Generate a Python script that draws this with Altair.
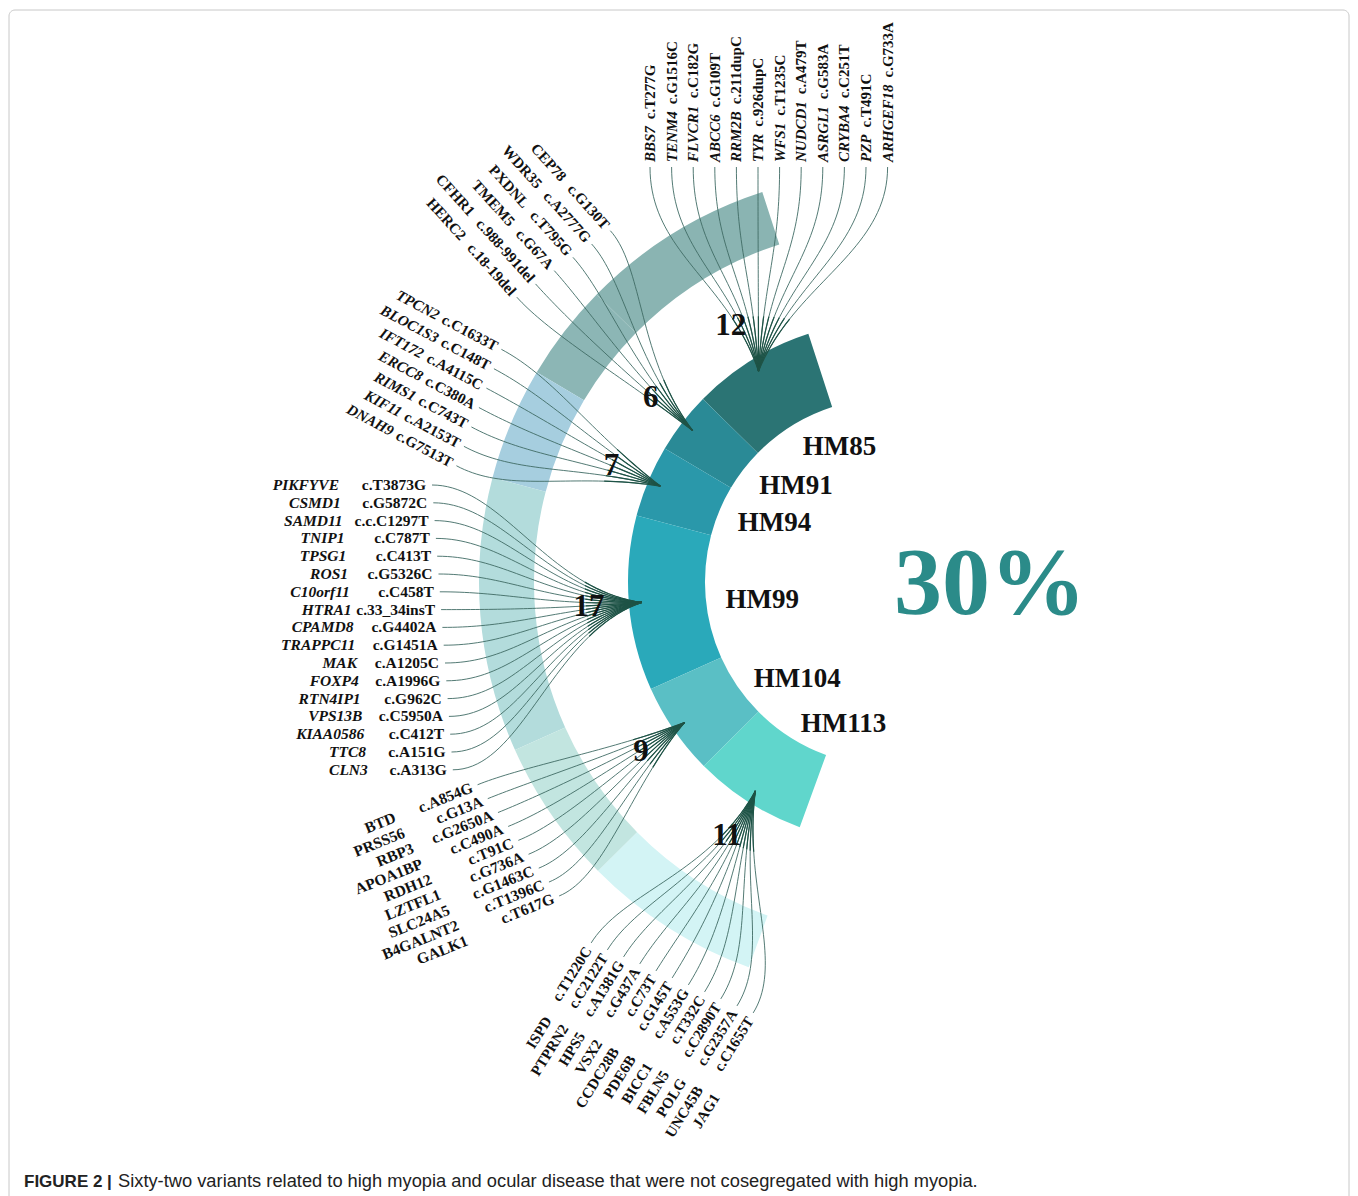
import math
import altair as alt
import pandas as pd

# ---------------- data ----------------
groups = ["HM85", "HM91", "HM94", "HM99", "HM104", "HM113"]
counts = [12, 6, 7, 17, 9, 11]

genes = {
    "HM85": ["BBS7", "TENM4", "FLVCR1", "ABCC6", "RRM2B", "TYR", "WFS1", "NUDCD1",
             "ASRGL1", "CRYBA4", "PZP", "ARHGEF18"],
    "HM91": ["CEP78", "WDR35", "PXDNL", "TMEM5", "CFHR1", "HERC2"],
    "HM94": ["TPCN2", "BLOC1S3", "IFT172", "ERCC8", "RIMS1", "KIF11", "DNAH9"],
    "HM99": ["PIKFYVE", "CSMD1", "SAMD11", "TNIP1", "TPSG1", "ROS1", "C10orf11", "HTRA1",
             "CPAMD8", "TRAPPC11", "MAK", "FOXP4", "RTN4IP1", "VPS13B", "KIAA0586", "TTC8", "CLN3"],
    "HM104": ["BTD", "PRSS56", "RBP3", "APOA1BP", "RDH12", "LZTFL1", "SLC24A5", "B4GALNT2", "GALK1"],
    "HM113": ["ISPD", "PTPRN2", "HPS5", "VSX2", "CCDC28B", "PDE6B", "BICC1", "FBLN5", "POLG",
              "UNC45B", "JAG1"],
}
variants = {
    "HM85": ["c.T277G", "c.G1516C", "c.C182G", "c.G109T", "c.211dupC", "c.926dupC", "c.T1235C",
             "c.A479T", "c.G583A", "c.C251T", "c.T491C", "c.G733A"],
    "HM91": ["c.G130T", "c.A2777G", "c.T795G", "c.G67A", "c.988-991del", "c.18-19del"],
    "HM94": ["c.C1633T", "c.C148T", "c.A4115C", "c.C380A", "c.C743T", "c.A2153T", "c.G7513T"],
    "HM99": ["c.T3873G", "c.G5872C", "c.c.C1297T", "c.C787T", "c.C413T", "c.G5326C", "c.C458T",
             "c.33_34insT", "c.G4402A", "c.G1451A", "c.A1205C", "c.A1996G", "c.G962C",
             "c.C5950A", "c.C412T", "c.A151G", "c.A313G"],
    "HM104": ["c.A854G", "c.G13A", "c.G2650A", "c.C490A", "c.T91C", "c.G736A", "c.G1463C",
              "c.T1396C", "c.T617G"],
    "HM113": ["c.T1220C", "c.C2122T", "c.A1381G", "c.G437A", "c.C73T", "c.G145T", "c.A553G",
              "c.T332C", "c.C2890T", "c.G2357A", "c.C1655T"],
}
big_label = "30%"
caption_bold = "FIGURE 2 |"
caption_text = ("Sixty-two variants related to high myopia and ocular disease that were not "
                "cosegregated with high myopia.")

inner_colors = ["#2b7474", "#2a8a96", "#2a98aa", "#2aa9ba", "#5abfc5", "#60d6cc"]
outer_colors = ["#8ab4b2", "#8cb6b5", "#a6cedf", "#b3dcdc", "#c2e5e0", "#d3f4f5"]

# ---------------- layout ----------------
W, H = 1342, 1188
X0, Y0 = 8, 8
CX, CY = 889, 582
TH0, TH1 = 200.0, 342.0
TOTAL = sum(counts)
R_IN, R_OUT = 184, 261
R_B_IN, R_B_OUT = 355, 410
R_TIP = 248
SERIF = "Liberation Serif"
SANS = "Liberation Sans"
INK = "#111111"

XS = alt.Scale(domain=[X0, X0 + W], nice=False, zero=False)
YS = alt.Scale(domain=[Y0, Y0 + H], nice=False, zero=False, reverse=True)
TS = alt.Scale(domain=[0, TOTAL], range=[math.radians(TH0), math.radians(TH1)])

TB = dict(A=722, B=667, C=722, D=722, E=667, F=611, G=778, H=778, I=389, J=500, K=778, L=667,
          M=944, N=722, O=778, P=611, Q=778, R=722, S=556, T=667, U=722, V=722, W=1000, X=722,
          Y=722, Z=667, a=500, b=556, c=444, d=556, e=444, f=333, g=500, h=556, i=278, j=333,
          k=556, l=278, m=833, n=556, o=500, p=556, q=556, r=444, s=389, t=333, u=556, v=500,
          w=722, x=500, y=500, z=444)
TBI = dict(TB)
TBI.update(dict(A=667, C=667, F=667, G=722, K=667, L=611, M=889, O=722, Q=722, R=667, T=611,
                V=667, W=889, X=667, Y=611, Z=611, r=389))
for t in (TB, TBI):
    t.update({".": 250, "-": 333, "_": 500, " ": 250})
    for dch in "0123456789":
        t[dch] = 500


def tw(s, size, italic=False):
    tab = TBI if italic else TB
    return sum(tab.get(ch, 500) for ch in s) * size / 1000.0


def ang_of(c):
    return TH0 + (TH1 - TH0) * c / TOTAL


def polar(theta_deg, r):
    a = math.radians(theta_deg)
    return CX + r * math.sin(a), CY - r * math.cos(a)


LAY = {
    "HM85": dict(mode="start", a0=(650, 162), step=(21.6, 0), angle=270, size=15, italic=True,
                 gap=7, off=5, k1=85, k2=95, arr=0, spread=22),
    "HM91": dict(mode="end", a0=(607, 227), step=(-18.7, 13.3), angle=48, size=15, italic=False,
                 gap=10, off=5, k1=50, k2=90, spread=15),
    "HM94": dict(mode="end", a0=(497, 347), step=(-7.5, 19.4), angle=28, size=15, italic=True,
                 gap=5, off=5, k1=60, k2=90, spread=15),
    "HM99": dict(mode="cols", a0=(426, 485), step=(1.3, 17.8), g0=(339, 485), gstep=(1.8, 17.8),
                 angle=0, size=15.5, italic=True, off=6, k1=70, k2=95, spread=14),
    "HM104": dict(mode="cols", a0=(472, 787), step=(10.2, 13.9), g0=(395, 817), gstep=(9, 15.4),
                  angle=338, size=15.5, italic=False, off=6, k1=50, k2=80, spread=15),
    "HM113": dict(mode="cols", a0=(588, 948), step=(16.2, 7.0), g0=(548, 1018), gstep=(16.8, 7.7),
                  angle=302, size=15, italic=False, off=6, k1=60, k2=95, arr=194, spread=15),
}

# ---------------- ring tables ----------------
start = {}
cum = 0
for g, n in zip(reversed(groups), reversed(counts)):
    start[g] = cum
    cum += n

ring_rows = []
for g, n, ci, co in zip(groups, counts, inner_colors, outer_colors):
    ring_rows.append(dict(group=g, n=n, t0=start[g], t1=start[g] + n, mid=start[g] + n / 2.0,
                          ci=ci, co=co, cx=CX, cy=CY))
ring = pd.DataFrame(ring_rows)

# ---------------- labels & curves ----------------
gene_rows, var_rows, line_rows = [], [], []
lid = 0
NSEG = 40
for g, n in zip(groups, counts):
    L = LAY[g]
    a = math.radians(L["angle"])
    d = (math.cos(a), math.sin(a))
    tip = polar(ang_of(start[g] + n / 2.0), R_TIP)
    arr = L.get("arr", ang_of(start[g] + n / 2.0))
    u = (math.sin(math.radians(arr)), -math.cos(math.radians(arr)))
    p = (-u[1], u[0])
    pts = []
    for i, (ge, va) in enumerate(zip(genes[g], variants[g])):
        A = (L["a0"][0] + i * L["step"][0], L["a0"][1] + i * L["step"][1])
        if L["mode"] == "start":
            ga, galign = A, "left"
            w = tw(ge, L["size"], L["italic"]) + L["gap"]
            va_pos, valign = (A[0] + w * d[0], A[1] + w * d[1]), "left"
            P0 = (A[0] - L["off"] * d[0], A[1] - L["off"] * d[1])
            dep = (-d[0], -d[1])
        elif L["mode"] == "end":
            va_pos, valign = A, "right"
            w = tw(va, L["size"]) + L["gap"]
            ga, galign = (A[0] - w * d[0], A[1] - w * d[1]), "right"
            P0 = (A[0] + L["off"] * d[0], A[1] + L["off"] * d[1])
            dep = d
        else:
            va_pos, valign = A, "right"
            ga = (L["g0"][0] + i * L["gstep"][0], L["g0"][1] + i * L["gstep"][1])
            galign = "right"
            P0 = (A[0] + L["off"] * d[0], A[1] + L["off"] * d[1])
            dep = d
        gene_rows.append(dict(group=g, text=ge, x=ga[0], y=ga[1], ang=L["angle"], fs=L["size"],
                              align=galign, italic=L["italic"]))
        var_rows.append(dict(group=g, text=va, x=va_pos[0], y=va_pos[1], ang=L["angle"],
                             fs=L["size"], align=valign))
        pts.append((P0, dep))
    proj = [(P0[0] - tip[0]) * p[0] + (P0[1] - tip[1]) * p[1] for P0, _ in pts]
    mx = max(abs(v) for v in proj) or 1.0
    for (P0, dep), pr in zip(pts, proj):
        s = pr / mx
        al = math.radians(L["spread"] * s)
        v = (math.cos(al) * u[0] + math.sin(al) * p[0], math.cos(al) * u[1] + math.sin(al) * p[1])
        C1 = (P0[0] + L["k1"] * dep[0], P0[1] + L["k1"] * dep[1])
        C2 = (tip[0] + L["k2"] * v[0], tip[1] + L["k2"] * v[1])
        for k in range(NSEG + 1):
            t = k / float(NSEG)
            mt = 1 - t
            bx = mt ** 3 * P0[0] + 3 * mt * mt * t * C1[0] + 3 * mt * t * t * C2[0] + t ** 3 * tip[0]
            by = mt ** 3 * P0[1] + 3 * mt * mt * t * C1[1] + 3 * mt * t * t * C2[1] + t ** 3 * tip[1]
            line_rows.append(dict(id=lid, k=k, x=bx, y=by))
        lid += 1

genes_df = pd.DataFrame(gene_rows)
vars_df = pd.DataFrame(var_rows)
lines_df = pd.DataFrame(line_rows)
tips_df = lines_df[lines_df["k"] >= 31]

# ---------------- layers ----------------
frame = alt.Chart(pd.DataFrame([dict(x0=9, x1=1349, y0=10, y1=1230)])).mark_rect(
    fillOpacity=0, stroke="#c8c8c8", strokeWidth=1, cornerRadius=6
).encode(
    x=alt.X("x0:Q", scale=XS, axis=None), x2="x1:Q",
    y=alt.Y("y0:Q", scale=YS, axis=None), y2="y1:Q",
)

outer = alt.Chart(ring).mark_arc(stroke=None).encode(
    theta=alt.Theta("t0:Q", scale=TS, stack=None), theta2="t1:Q",
    radius=alt.value(R_B_OUT), radius2=alt.value(R_B_IN),
    x=alt.X("cx:Q", scale=XS, axis=None), y=alt.Y("cy:Q", scale=YS, axis=None),
    color=alt.Color("co:N", scale=None),
)
inner = alt.Chart(ring).mark_arc(stroke=None).encode(
    theta=alt.Theta("t0:Q", scale=TS, stack=None), theta2="t1:Q",
    radius=alt.value(R_OUT), radius2=alt.value(R_IN),
    x=alt.X("cx:Q", scale=XS, axis=None), y=alt.Y("cy:Q", scale=YS, axis=None),
    color=alt.Color("ci:N", scale=None),
)

curves = alt.Chart(lines_df).mark_line(color="#3f6b64", strokeWidth=0.95, opacity=0.95).encode(
    x=alt.X("x:Q", scale=XS, axis=None), y=alt.Y("y:Q", scale=YS, axis=None),
    detail="id:N", order="k:Q",
)
tip_curves = alt.Chart(tips_df).mark_line(color="#1e5346", strokeWidth=1.2).encode(
    x=alt.X("x:Q", scale=XS, axis=None), y=alt.Y("y:Q", scale=YS, axis=None),
    detail="id:N", order="k:Q",
)

nums = alt.Chart(ring).mark_text(font=SERIF, fontWeight="bold", fontSize=31, color=INK,
                                 align="center", baseline="middle").encode(
    theta=alt.Theta("mid:Q", scale=TS, stack=None), radius=alt.value(301),
    x=alt.X("cx:Q", scale=XS, axis=None), y=alt.Y("cy:Q", scale=YS, axis=None),
    text="n:Q",
)
hm = alt.Chart(ring).mark_text(font=SERIF, fontWeight="bold", fontSize=27, color=INK,
                               align="left", baseline="middle", dy=4).encode(
    theta=alt.Theta("mid:Q", scale=TS, stack=None), radius=alt.value(164),
    x=alt.X("cx:Q", scale=XS, axis=None), y=alt.Y("cy:Q", scale=YS, axis=None),
    text="group:N",
)


def text_layer(df, align, italic):
    kw = dict(font=SERIF, fontWeight="bold", color=INK, align=align, baseline="middle")
    if italic:
        kw["fontStyle"] = "italic"
    return alt.Chart(df).mark_text(**kw).encode(
        x=alt.X("x:Q", scale=XS, axis=None), y=alt.Y("y:Q", scale=YS, axis=None),
        angle=alt.Angle("ang:Q", scale=None), size=alt.Size("fs:Q", scale=None),
        text="text:N",
    )


gene_layers = []
for al in ["left", "right"]:
    for it in [True, False]:
        sub = genes_df[(genes_df["align"] == al) & (genes_df["italic"] == it)]
        if len(sub):
            gene_layers.append(text_layer(sub, al, it))
var_layers = []
for al in ["left", "right"]:
    sub = vars_df[vars_df["align"] == al]
    if len(sub):
        var_layers.append(text_layer(sub, al, False))

big = alt.Chart(pd.DataFrame([dict(x=990, y=614, t=big_label)])).mark_text(
    font=SERIF, fontWeight="bold", fontSize=96, color="#2b8b89", align="center",
    baseline="alphabetic").encode(
    x=alt.X("x:Q", scale=XS, axis=None), y=alt.Y("y:Q", scale=YS, axis=None), text="t:N")

cap1 = alt.Chart(pd.DataFrame([dict(x=24, y=1182, t=caption_bold)])).mark_text(
    font=SANS, fontWeight="bold", fontSize=17, color="#222222", align="left",
    baseline="middle").encode(
    x=alt.X("x:Q", scale=XS, axis=None), y=alt.Y("y:Q", scale=YS, axis=None), text="t:N")
cap2 = alt.Chart(pd.DataFrame([dict(x=118, y=1182, t=caption_text)])).mark_text(
    font=SANS, fontSize=18.3, color="#222222", align="left", baseline="middle").encode(
    x=alt.X("x:Q", scale=XS, axis=None), y=alt.Y("y:Q", scale=YS, axis=None), text="t:N")

chart = alt.layer(frame, outer, inner, curves, tip_curves, nums, hm, *gene_layers, *var_layers,
                  big, cap1, cap2).properties(
    width=W, height=H, padding=0, autosize=alt.AutoSizeParams(type="none"),
    background="white",
).configure_view(stroke=None)

chart.save("out.html", embed_options={"renderer": "svg", "actions": False})
